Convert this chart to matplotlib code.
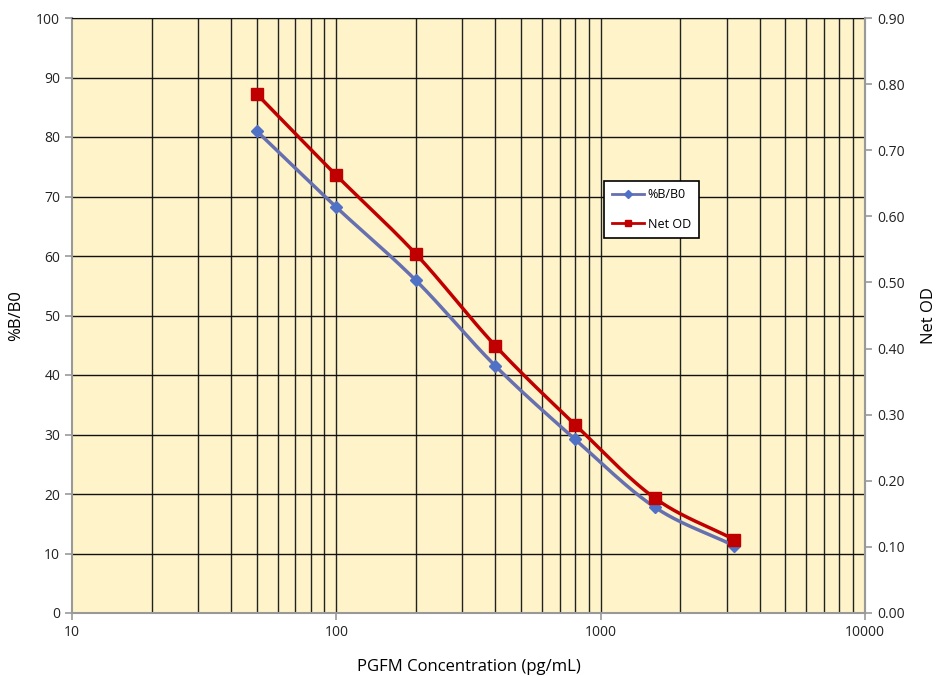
import numpy as np
import matplotlib
matplotlib.use('Agg')
import matplotlib.pyplot as plt
from matplotlib.ticker import FixedLocator, NullFormatter

plt.rcParams['font.family'] = ['Open Sans', 'DejaVu Sans']

conc = [50, 100, 200, 400, 800, 1600, 3200]
pct_b_b0 = [81.0, 68.2, 55.9, 41.5, 29.2, 17.8, 11.3]
net_od = [0.785, 0.662, 0.543, 0.404, 0.285, 0.174, 0.111]

y_left_ticks = list(range(0, 101, 10))
y_right_ticks = [i / 100 for i in range(0, 91, 10)]


def smooth(xs, ys, n=30):
    # Catmull-Rom curve through the points, done in log-x space
    lx = np.log10(xs)
    ys = np.asarray(ys, dtype=float)
    px = np.concatenate([[2 * lx[0] - lx[1]], lx, [2 * lx[-1] - lx[-2]]])
    py = np.concatenate([[2 * ys[0] - ys[1]], ys, [2 * ys[-1] - ys[-2]]])
    out_x, out_y = [], []
    t = np.linspace(0, 1, n)
    for i in range(1, len(px) - 2):
        for arr, res in ((px, out_x), (py, out_y)):
            p0, p1, p2, p3 = arr[i - 1], arr[i], arr[i + 1], arr[i + 2]
            res.extend(0.5 * (2 * p1 + (-p0 + p2) * t
                              + (2 * p0 - 5 * p1 + 4 * p2 - p3) * t ** 2
                              + (-p0 + 3 * p1 - 3 * p2 + p3) * t ** 3))
    return 10 ** np.array(out_x), np.array(out_y)


fig = plt.figure(figsize=(9.43, 6.76), dpi=100)
ax = fig.add_axes([72 / 943, 63 / 676, 793 / 943, 595 / 676])
ax.set_facecolor('#FFF3C9')
ax.set_xscale('log')
ax.set_xlim(10, 10000)
ax.set_ylim(0, 100)

# vertical grid at every decade step, horizontal at every 10
minors = [m * 10 ** e for e in range(1, 4) for m in range(2, 10)]
for v in minors + [100, 1000]:
    ax.axvline(v, color='#222222', lw=1.0, zorder=1)
for h in y_left_ticks[1:]:
    ax.axhline(h, color='#111111', lw=1.0, zorder=1)

ax.xaxis.set_minor_locator(FixedLocator(minors))
ax.xaxis.set_minor_formatter(NullFormatter())
ax.tick_params(axis='x', which='minor', length=0)
ax.set_xticks([10, 100, 1000, 10000])
ax.set_xticklabels(['10', '100', '1000', '10000'])
ax.set_yticks(y_left_ticks)
ax.tick_params(axis='both', which='major', labelsize=10, colors='#999999',
               labelcolor='#222222', length=5, width=1.2)

for s in ['left', 'bottom', 'right']:
    ax.spines[s].set_color('#999999')
    ax.spines[s].set_linewidth(1.5)
ax.spines['top'].set_color('#111111')

ax2 = ax.twinx()
ax2.set_ylim(0, 0.90)
ax2.set_yticks(y_right_ticks)
ax2.set_yticklabels(['%.2f' % v for v in y_right_ticks])
ax2.tick_params(axis='y', labelsize=10, colors='#999999', labelcolor='#222222',
                length=5, width=1.2)
for s in ax2.spines.values():
    s.set_visible(False)
ax2.spines['right'].set_visible(True)
ax2.spines['right'].set_color('#999999')
ax2.spines['right'].set_linewidth(1.5)

sx, sy = smooth(conc, pct_b_b0)
ax.plot(sx, sy, color='#6670B0', lw=2.5, zorder=3)
ax.plot(conc, pct_b_b0, ls='none', marker='D', ms=6, color='#4F72C6', zorder=4)
h1, = ax.plot([], [], color='#6670B0', lw=2, marker='D', ms=4,
              markerfacecolor='#4F72C6', markeredgecolor='#4F72C6', label='%B/B0')

rx, ry = smooth(conc, net_od)
ax2.plot(rx, ry, color='#C00000', lw=2.5, zorder=3)
ax2.plot(conc, net_od, ls='none', marker='s', ms=8, color='#C00000', zorder=4)
h2, = ax2.plot([], [], color='#C00000', lw=2, marker='s', ms=5, label='Net OD')

leg = ax2.legend(handles=[h1, h2], loc='upper left',
                 bbox_to_anchor=(604 / 943, 1 - 181 / 676), bbox_transform=fig.transFigure,
                 borderaxespad=0, fontsize=9, frameon=True, fancybox=False,
                 edgecolor='black', framealpha=1, handlelength=2.6,
                 handletextpad=0.3, labelspacing=1.3, borderpad=0.6)
leg.get_frame().set_linewidth(1.2)

ax.set_ylabel('%B/B0', fontsize=12, labelpad=9)
ax2.set_ylabel('Net OD', fontsize=12, labelpad=12)
ax.set_xlabel('PGFM Concentration (pg/mL)', fontsize=12, labelpad=14)

fig.savefig('out.png', dpi=100)
